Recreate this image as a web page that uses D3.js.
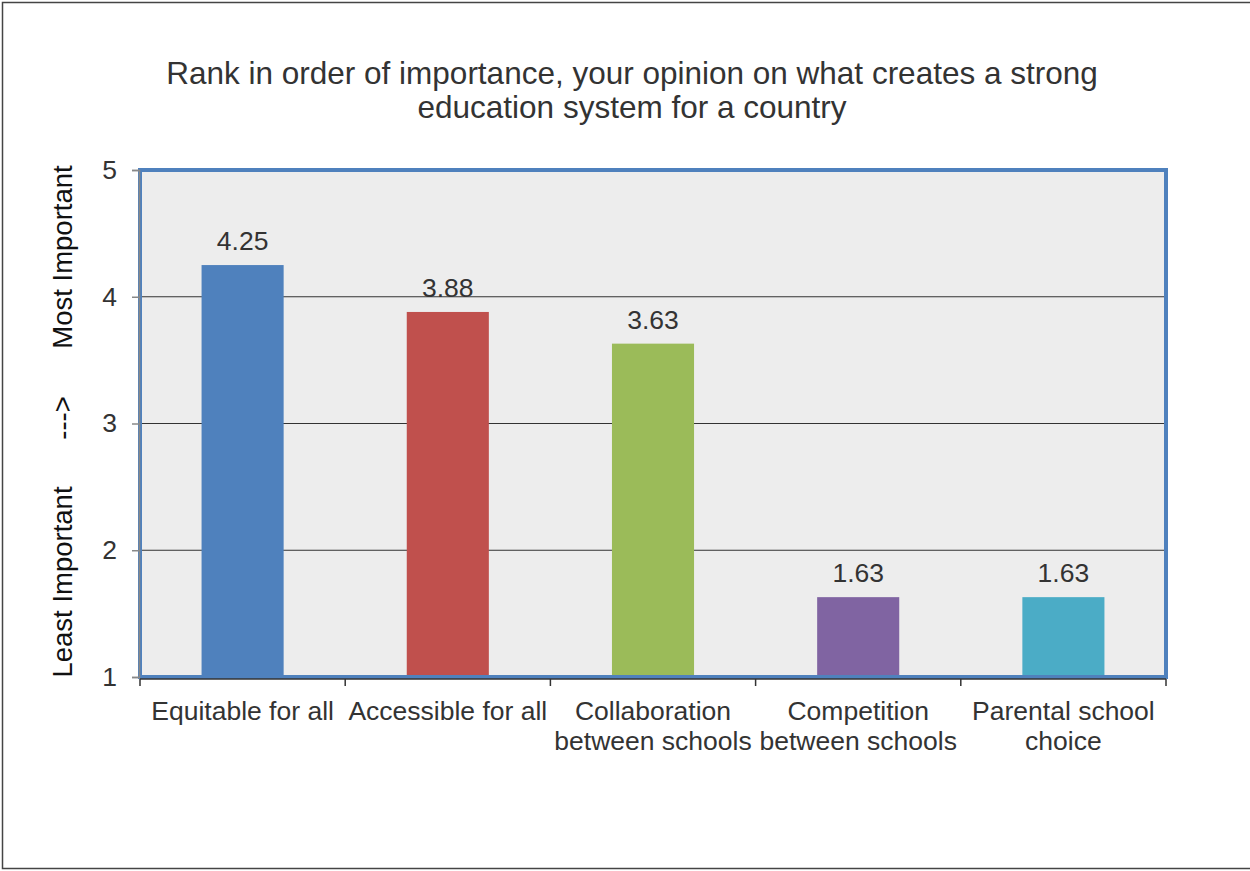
<!DOCTYPE html>
<html>
<head>
<meta charset="utf-8">
<script src="https://cdn.jsdelivr.net/npm/d3@7"></script>
<style>
  body { margin: 0; background: #fff; }
  svg { display: block; font-family: "Liberation Sans", Arial, sans-serif; }
</style>
</head>
<body>
<div id="chart"></div>
<script>
const categories = [
  ["Equitable for all"],
  ["Accessible for all"],
  ["Collaboration", "between schools"],
  ["Competition", "between schools"],
  ["Parental school", "choice"]
];
const values = [4.25, 3.88, 3.63, 1.63, 1.63];
const barColors = ["#4F81BD", "#C0504D", "#9BBB59", "#8064A2", "#4BACC6"];
const yTicks = [1, 2, 3, 4, 5];
const titleLines = ["Rank in order of importance, your opinion on what creates a strong", "education system for a country"];
const yTitleParts = ["Least Important", "--->", "Most Important"];

const w = 1250, h = 871;
const padL = 140, padR = 1166, padT = 170, padB = 677;

const svg = d3.select("#chart").append("svg")
  .attr("width", w)
  .attr("height", h);

// outer frame
svg.append("rect")
  .attr("x", 2.5).attr("y", 2.5)
  .attr("width", w + 10).attr("height", 866)
  .attr("fill", "#fff")
  .attr("stroke", "#444").attr("stroke-width", 1.5);

const xScale = d3.scaleBand()
  .domain(d3.range(categories.length))
  .range([padL, padR])
  .paddingInner(0.6)
  .paddingOuter(0.3);

const yScale = d3.scaleLinear()
  .domain([1, 5])
  .range([padB, padT]);

// plot area
svg.append("rect")
  .attr("x", padL).attr("y", padT)
  .attr("width", padR - padL).attr("height", padB - padT)
  .attr("fill", "#EDEDED");

// grid
svg.append("g")
  .selectAll("line")
  .data(yTicks.filter(d => d > 1 && d < 5))
  .enter().append("line")
  .attr("x1", padL).attr("x2", padR)
  .attr("y1", d => yScale(d)).attr("y2", d => yScale(d))
  .attr("stroke", "#333").attr("stroke-width", 1);

// bars
svg.append("g")
  .selectAll("rect")
  .data(values)
  .enter().append("rect")
  .attr("x", (d, i) => xScale(i))
  .attr("y", d => yScale(d))
  .attr("width", xScale.bandwidth())
  .attr("height", d => yScale(1) - yScale(d))
  .attr("fill", (d, i) => barColors[i]);

// value labels
svg.append("g")
  .selectAll("text")
  .data(values)
  .enter().append("text")
  .attr("x", (d, i) => xScale(i) + xScale.bandwidth() / 2)
  .attr("y", d => yScale(d) - 15)
  .attr("text-anchor", "middle")
  .attr("font-size", 26.5)
  .attr("fill", "#333")
  .text(d => d.toFixed(2));

// plot border (blue)
svg.append("rect")
  .attr("x", padL).attr("y", padT)
  .attr("width", padR - padL).attr("height", padB - padT)
  .attr("fill", "none")
  .attr("stroke", "#4F81BD").attr("stroke-width", 4);

// y axis
const yAxis = d3.axisLeft(yScale).tickValues(yTicks).tickFormat(d3.format("d")).tickSize(7).tickPadding(15);
const gy = svg.append("g")
  .attr("transform", `translate(${padL - 1}, 0)`)
  .call(yAxis);
gy.select(".domain").attr("stroke", "#888").attr("stroke-width", 1.5);
gy.selectAll(".tick line").attr("stroke", "#888").attr("stroke-width", 1.5);
gy.selectAll("text").attr("font-size", 26.5).attr("fill", "#333")
  .attr("font-family", "Liberation Sans, Arial, sans-serif");

// x axis
const gx = svg.append("g")
  .attr("transform", `translate(0, ${padB + 2})`);
gx.append("line")
  .attr("x1", padL).attr("x2", padR)
  .attr("stroke", "#333").attr("stroke-width", 1.5);
gx.selectAll(".xt")
  .data(d3.range(categories.length + 1))
  .enter().append("line")
  .attr("class", "xt")
  .attr("x1", i => padL + i * (padR - padL) / categories.length)
  .attr("x2", i => padL + i * (padR - padL) / categories.length)
  .attr("y1", 0).attr("y2", 7)
  .attr("stroke", "#333").attr("stroke-width", 1.5);

const xLabels = svg.append("g")
  .selectAll("text")
  .data(categories)
  .enter().append("text")
  .attr("x", (d, i) => xScale(i) + xScale.bandwidth() / 2)
  .attr("y", 720)
  .attr("text-anchor", "middle")
  .attr("font-size", 26.5)
  .attr("fill", "#333");
xLabels.selectAll("tspan")
  .data(d => d)
  .enter().append("tspan")
  .attr("x", function () { return d3.select(this.parentNode).attr("x"); })
  .attr("dy", (d, i) => i === 0 ? 0 : 30)
  .text(d => d);

// y axis title, three pieces
const yTitleCenters = [582, 418, 257];
svg.append("g")
  .selectAll("text")
  .data(yTitleParts)
  .enter().append("text")
  .attr("transform", (d, i) => `translate(72, ${yTitleCenters[i]}) rotate(-90)`)
  .attr("text-anchor", "middle")
  .attr("font-size", 27.5)
  .attr("fill", "#111")
  .text(d => d);

// title
svg.append("text")
  .attr("x", 632)
  .attr("y", 84)
  .attr("text-anchor", "middle")
  .attr("font-size", 31.5)
  .attr("fill", "#333")
  .selectAll("tspan")
  .data(titleLines)
  .enter().append("tspan")
  .attr("x", 632)
  .attr("dy", (d, i) => i === 0 ? 0 : 34)
  .text(d => d);
</script>
</body>
</html>
